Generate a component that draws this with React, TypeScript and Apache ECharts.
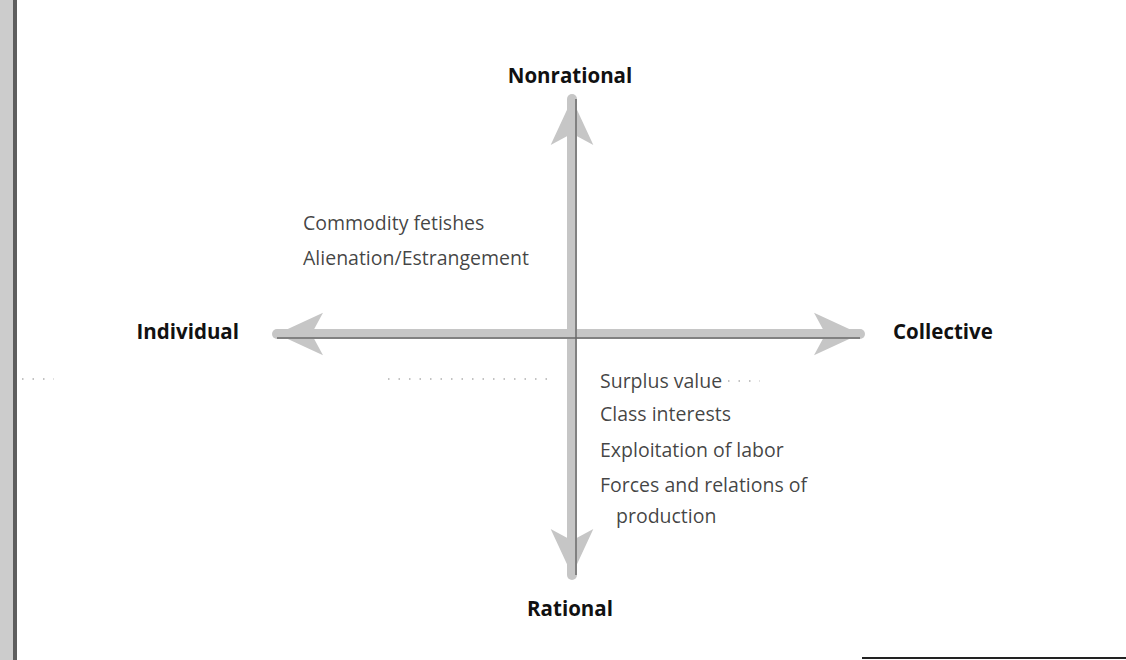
import React, { useEffect, useRef } from "react";
import * as echarts from "echarts";

// Concept map: Marxian concepts placed on two dimensions
// x: Individual (-) ... Collective (+); y: Rational (-) ... Nonrational (+)
const poles = ["Individual", "Collective", "Rational", "Nonrational"];
const conceptNames = [
  "Commodity fetishes",
  "Alienation/Estrangement",
  "Surplus value",
  "Class interests",
  "Exploitation of labor",
  "Forces and relations of",
  "production",
];
const conceptX = [-269, -269, 28, 28, 28, 28, 44];
const conceptY = [112, 77, -46, -79, -115, -150, -181];
const axisRangeX = [-295, 288];
const axisRangeY = [-241, 235];

export default function App() {
  const ref = useRef<HTMLDivElement>(null);
  useEffect(() => {
    if (!ref.current) return;
    const chart = echarts.init(ref.current, undefined, { renderer: "svg" });
    const gridLeft = 277;
    const gridTop = 99;
    const gridW = 583;
    const gridH = 476;
    const cx = gridLeft + (-axisRangeX[0] / (axisRangeX[1] - axisRangeX[0])) * gridW;
    const cy = gridTop + (axisRangeY[1] / (axisRangeY[1] - axisRangeY[0])) * gridH;
    const boldFont = {
      fontFamily: "Open Sans",
      fontWeight: "bold" as const,
      fontSize: 20.5,
      fill: "#111",
    };
    const arrowAxis = {
      axisLine: {
        onZero: true,
        symbol: ["arrow", "arrow"],
        symbolSize: [32, 46],
        lineStyle: { color: "#c6c6c6", width: 10 },
      },
      axisTick: { show: false },
      axisLabel: { show: false },
      splitLine: { show: false },
    };
    chart.setOption({
      animation: false,
      backgroundColor: "#ffffff",
      grid: { left: gridLeft, top: gridTop, width: gridW, height: gridH },
      xAxis: { type: "value", min: axisRangeX[0], max: axisRangeX[1], ...arrowAxis },
      yAxis: { type: "value", min: axisRangeY[0], max: axisRangeY[1], ...arrowAxis },
      series: [
        {
          type: "scatter",
          symbolSize: 0,
          clip: false,
          silent: true,
          data: conceptNames.map((n, i) => ({ name: n, value: [conceptX[i], conceptY[i]] })),
          label: {
            show: true,
            position: "right",
            distance: 0,
            formatter: (p: any) => p.name,
            fontFamily: "Open Sans",
            fontSize: 19.5,
            color: "#111",
          },
          markLine: {
            silent: true,
            symbol: "none",
            label: { show: false },
            lineStyle: { color: "#6a6a6a", width: 1.5, type: "solid" },
            data: [{ xAxis: 4 }, { yAxis: -4 }],
          },
        },
      ],
      graphic: [
        // scanned page binding edge
        { type: "rect", shape: { x: 0, y: 0, width: 13, height: 660 }, style: { fill: "#cccccc" } },
        { type: "rect", shape: { x: 13, y: 0, width: 4, height: 660 }, style: { fill: "#5e5e5e" } },
        // bottom rule
        { type: "line", shape: { x1: 862, y1: 658, x2: 1126, y2: 658 }, style: { stroke: "#222", lineWidth: 2 } },
        // dotted leaders
        { type: "line", shape: { x1: 388, y1: 379, x2: 556, y2: 379 }, style: { stroke: "#888", lineWidth: 1.2, lineDash: [1.5, 9] } },
        { type: "line", shape: { x1: 728, y1: 381, x2: 760, y2: 381 }, style: { stroke: "#888", lineWidth: 1.2, lineDash: [1.5, 9] } },
        { type: "line", shape: { x1: 22, y1: 379, x2: 54, y2: 379 }, style: { stroke: "#888", lineWidth: 1.2, lineDash: [1.5, 9] } },
        // pole labels
        { type: "text", x: cx - 2, y: 75, style: { ...boldFont, text: poles[3], align: "center", verticalAlign: "middle" } },
        { type: "text", x: cx - 2, y: 608, style: { ...boldFont, text: poles[2], align: "center", verticalAlign: "middle" } },
        { type: "text", x: 239, y: cy - 3, style: { ...boldFont, text: poles[0], align: "right", verticalAlign: "middle" } },
        { type: "text", x: 893, y: cy - 3, style: { ...boldFont, text: poles[1], align: "left", verticalAlign: "middle" } },
      ],
    });
    return () => chart.dispose();
  }, []);
  return (
    <div
      ref={ref}
      style={{ position: "fixed", left: 0, top: 0, width: 1126, height: 660, background: "#fff" }}
    />
  );
}
